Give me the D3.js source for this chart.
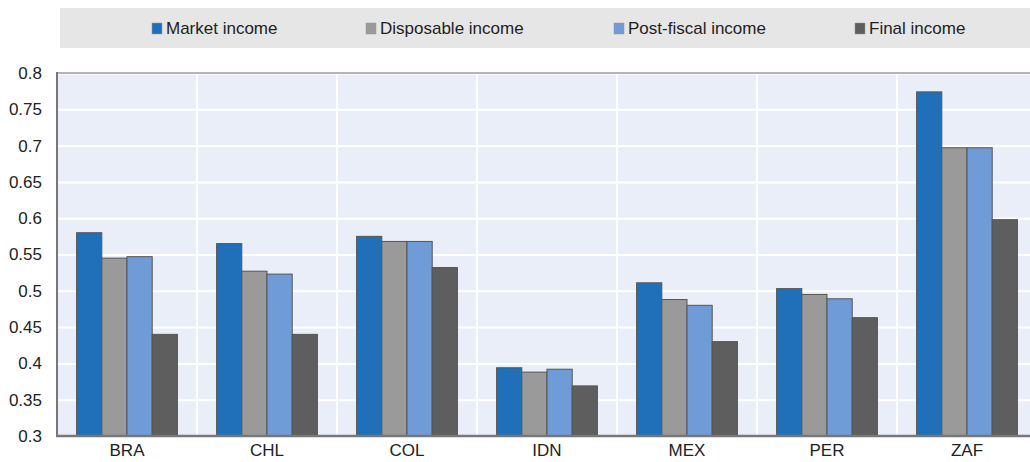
<!DOCTYPE html>
<html>
<head>
<meta charset="utf-8">
<script src="https://cdnjs.cloudflare.com/ajax/libs/d3/7.8.5/d3.min.js"></script>
<style>
body{ margin:0; background:#fff; }
svg{ display:block; font-family:"Liberation Sans Narrow","Liberation Sans",Arial,sans-serif; }
.grid line{ stroke:#fff; stroke-width:2px; }
.grid path{ display:none; }
.axis text{ fill:#222; font-size:17px; }
.axis line{ display:none; }
.legend text{ font-size:17px; fill:#222; }
</style>
</head>
<body>
<script>
  var WIDTH = 1030;
  var HEIGHT = 462;

  var countries = ["BRA","CHL","COL","IDN","MEX","PER","ZAF"];
  var seriesNames = ["Market income","Disposable income","Post-fiscal income","Final income"];
  var seriesColors = ["#1f70b8","#9a9a9a","#6f9bd6","#5e5e5e"];
  var marketIncome     = [0.580, 0.565, 0.575, 0.394, 0.511, 0.503, 0.774];
  var disposableIncome = [0.545, 0.527, 0.568, 0.388, 0.488, 0.495, 0.697];
  var postFiscalIncome = [0.547, 0.523, 0.568, 0.392, 0.480, 0.489, 0.697];
  var finalIncome      = [0.440, 0.440, 0.532, 0.369, 0.430, 0.463, 0.598];
  var yTicks = [0.3,0.35,0.4,0.45,0.5,0.55,0.6,0.65,0.7,0.75,0.8];

  var seriesValues = [marketIncome, disposableIncome, postFiscalIncome, finalIncome];

  var plotLeft = 57, plotRight = 1037, plotTop = 73, plotBottom = 436;

  var x0 = d3.scaleBand()
    .domain(countries)
    .range([plotLeft, plotRight])
    .paddingInner(0.28)
    .paddingOuter(0.14);

  var x1 = d3.scaleBand()
    .domain(seriesNames)
    .range([0, x0.bandwidth()]);

  var y = d3.scaleLinear()
    .domain([0.3, 0.8])
    .range([plotBottom, plotTop]);

  var svg = d3.select("body").append("svg")
    .attr("width", WIDTH)
    .attr("height", HEIGHT);

  // legend
  var legend = svg.append("g").attr("class", "legend");
  legend.append("rect")
    .attr("x", 60).attr("y", 8)
    .attr("width", 970).attr("height", 40)
    .attr("fill", "#e6e6e6");
  var legendX = [152, 366, 614, 855];
  seriesNames.forEach(function(name, i){
    legend.append("rect")
      .attr("x", legendX[i]).attr("y", 23)
      .attr("width", 10).attr("height", 11)
      .attr("fill", seriesColors[i])
      .attr("stroke", "#999").attr("stroke-width", 0.5);
    legend.append("text")
      .attr("x", legendX[i] + 14).attr("y", 34)
      .text(name);
  });

  // plot background
  svg.append("rect")
    .attr("x", plotLeft).attr("y", plotTop)
    .attr("width", WIDTH - plotLeft).attr("height", plotBottom - plotTop)
    .attr("fill", "#e9eef8");

  svg.append("g")
    .attr("class", "grid")
    .attr("transform", `translate(${plotLeft},0)`)
    .call(d3.axisLeft(y).tickValues(yTicks.slice(1)).tickSize(-(WIDTH - plotLeft)).tickFormat(""));

  svg.append("g")
    .attr("class", "grid")
    .selectAll("line")
    .data(countries.slice(1))
    .enter()
    .append("line")
      .attr("x1", d => x0(d) - x0.step() * x0.paddingInner() / 2)
      .attr("x2", d => x0(d) - x0.step() * x0.paddingInner() / 2)
      .attr("y1", plotTop).attr("y2", plotBottom);

  // top frame line
  svg.append("line")
    .attr("x1", plotLeft).attr("x2", WIDTH)
    .attr("y1", plotTop).attr("y2", plotTop)
    .attr("stroke", "#b5b5b5").attr("stroke-width", 2);

  // bars
  var groups = svg.append("g").selectAll("g")
    .data(countries)
    .enter()
    .append("g")
      .attr("transform", d => `translate(${x0(d)},0)`);

  groups.selectAll("rect")
    .data((d, ci) => seriesNames.map((s, si) => ({s: s, si: si, v: seriesValues[si][ci]})))
    .enter()
    .append("rect")
      .attr("x", d => x1(d.s))
      .attr("y", d => y(d.v))
      .attr("width", x1.bandwidth())
      .attr("height", d => y(0.3) - y(d.v))
      .attr("fill", d => seriesColors[d.si])
      .attr("stroke", "#555")
      .attr("stroke-width", 1);

  // axes lines
  svg.append("line")
    .attr("x1", plotLeft).attr("x2", plotLeft)
    .attr("y1", plotTop - 1).attr("y2", plotBottom + 1)
    .attr("stroke", "#777").attr("stroke-width", 2);
  svg.append("line")
    .attr("x1", plotLeft - 1).attr("x2", WIDTH)
    .attr("y1", plotBottom).attr("y2", plotBottom)
    .attr("stroke", "#777").attr("stroke-width", 2.5);

  var yAxis = svg.append("g")
    .attr("class", "axis")
    .attr("transform", `translate(${plotLeft},0)`)
    .call(d3.axisLeft(y).tickValues(yTicks).tickSize(0).tickPadding(15).tickFormat(d => String(+d.toFixed(2))));
  yAxis.select(".domain").remove();

  var xAxis = svg.append("g")
    .attr("class", "axis")
    .attr("transform", `translate(0,${plotBottom})`)
    .call(d3.axisBottom(x0).tickSize(0).tickPadding(8));
  xAxis.select(".domain").remove();
</script>
</body>
</html>
